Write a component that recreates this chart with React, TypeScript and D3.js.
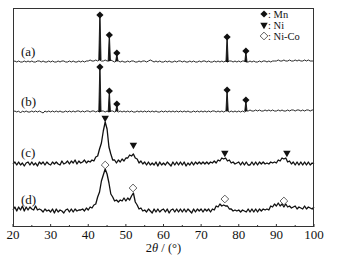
import * as d3 from "d3";

// 2θ sampling grid, 0.5° steps
const twoTheta = d3.range(20, 100.001, 0.5);

// intensities above each pattern's own baseline (a.u.), one value per 0.5°
const intensityA = [
  0, 1, 0, 1, 0, 0, 1, 0, 1, 0,
  1, 0, 0, 1, 1, 0, 1, 0, 0, 1,
  0, 1, 0, 0, 1, 0, 1, 1, 0, 0,
  1, 0, 1, 0, 0, 1, 0, 1, 0, 1,
  1, 2, 1, 1, 2, 1, 2, 1, 1, 2,
  1, 1, 2, 1, 0, 1, 1, 0, 1, 0,
  0, 1, 0, 1, 1, 0, 0, 1, 0, 1,
  1, 0, 1, 2, 1, 0, 1, 0, 1, 0,
  0, 1, 0, 1, 0, 0, 1, 0, 1, 1,
  0, 1, 0, 0, 1, 0, 1, 0, 0, 1,
  0, 1, 1, 0, 1, 0, 0, 1, 0, 1,
  0, 1, 0, 1, 0, 1, 1, 0, 1, 0,
  1, 0, 1, 1, 0, 0, 1, 0, 1, 0,
  0, 1, 0, 1, 1, 0, 1, 0, 1, 1,
  1, 2, 1, 1, 2, 1, 1, 2, 1, 1,
  2, 1, 2, 1, 1, 2, 1, 2, 1, 1,
  1,
];
const intensityB = [
  0, 1, 0, 1, -1, 1, 0, 1, 0, 0,
  1, 0, 1, 0, 1, 0, -1, 1, 0, 1,
  0, 1, 0, 1, 0, 1, 0, 0, 1, 0,
  1, 0, 1, 0, 1, 1, 0, 1, 0, 1,
  1, 0, 1, 1, 0, 1, 0, 1, 1, 0,
  1, 0, 1, 1, 0, 1, 0, 1, 0, 1,
  0, 1, 0, 1, 0, 0, 1, 0, 1, 0,
  1, 0, 1, 0, 1, 0, 1, 0, 0, 1,
  0, 1, 0, 1, 0, 1, 0, 1, 0, 1,
  0, 1, 0, 1, 0, 0, 1, 0, 1, 0,
  1, 0, 1, 0, 1, 0, 1, 1, 0, 1,
  0, 1, 0, 1, 1, 0, 1, 0, 1, 0,
  1, 0, 1, 0, 1, 1, 2, 1, 1, 2,
  1, 2, 1, 1, 2, 1, 2, 1, 2, 1,
  1, 2, 1, 2, 1, 1, 2, 1, 2, 2,
  1, 2, 2, 1, 2, 1, 2, 2, 1, 2,
  2,
];
const intensityC = [
  0, 2, -1, 2, -1, 1, -2, 1, 2, -1,
  2, -1, 1, -2, 2, 0, 2, -1, 2, 0,
  -1, 2, 0, 2, 0, -1, 3, 0, 1, 3,
  0, 3, 1, 4, 0, 3, 1, 2, 4, 1,
  3, 2, 4, 3, 7, 8, 15, 21, 33, 42,
  35, 17, 10, 4, 4, 1, 4, 2, 5, 3,
  6, 6, 9, 8, 10, 6, 5, 1, 3, 0,
  2, -1, 2, -1, 1, -1, 2, -2, 2, -1,
  1, -1, 2, 0, -2, 2, -1, 2, -1, 2,
  -1, 2, -2, 1, -1, 2, -1, 2, 0, 2,
  0, 2, 0, 2, 0, 2, 1, 3, 1, 4,
  3, 6, 5, 6, 3, 4, 1, 2, 0, 1,
  2, -1, 2, -1, 2, -1, -1, 2, -1, 2,
  -1, 2, 0, 2, 0, 1, 0, 2, 1, 2,
  1, 4, 3, 6, 5, 6, 2, 3, 0, 2,
  -1, 2, -1, 2, -1, 2, -1, 2, -1, 1,
  0,
];
const intensityD = [
  1, 4, 0, 4, 1, 5, 0, 4, 1, 4,
  2, 1, 5, 1, 2, 1, -1, 2, 0, 1,
  -1, 2, -2, 2, -1, 1, 0, -2, 1, 2,
  -1, 2, -1, 2, 0, 1, 1, 2, 0, 3,
  1, 4, 3, 6, 7, 14, 19, 30, 36, 42,
  37, 28, 17, 14, 10, 11, 9, 11, 10, 13,
  10, 13, 11, 15, 18, 9, 6, 2, 3, 0,
  1, -1, 2, 0, -2, 2, -1, 2, -1, 1,
  2, -1, 2, -2, 1, 2, -1, 2, -1, 2,
  -1, 2, -1, 2, 0, -2, 2, -1, 2, 0,
  2, -1, 2, 0, 2, -1, 2, 1, 5, 4,
  7, 5, 6, 5, 5, 2, 2, 0, 1, 0,
  1, -1, 1, 0, -1, 2, -1, 2, -1, 2,
  -1, 2, 0, 2, 1, 2, 1, 5, 4, 7,
  5, 8, 5, 7, 4, 7, 4, 5, 3, 4,
  5, 2, 4, 3, 2, 5, 2, 4, 3, 2,
  4,
];

const traceLabels = ["(a)", "(b)", "(c)", "(d)"];
const traceOffsets = [165, 115, 63, 16];

// sharp Mn reflections in (a) and (b)
const mnPeaks = [43.1, 45.6, 47.6, 76.9, 81.9];
const mnHeightsA = [45, 25, 7, 23, 9];
const mnHeightsB = [43, 19, 6, 20, 10];

// marker positions for (c) and (d)
const niPeaks = [44.5, 52.0, 76.3, 92.8];
const niMarkerHeights = [46, 19, 11, 11];
const niCoPeaks = [44.5, 51.9, 76.3, 92.0];
const niCoMarkerHeights = [46, 23, 12, 10];

const xTicks = [20, 30, 40, 50, 60, 70, 80, 90, 100];
const xMinorTicks = [25, 35, 45, 55, 65, 75, 85, 95];

const FONT = "'Liberation Serif', 'Times New Roman', serif";

export default function App() {
  const width = 339;
  const height = 261;
  const plot = { left: 13, right: 314, top: 8, bottom: 227 };

  const x = d3.scaleLinear().domain([20, 100]).range([plot.left, plot.right]);
  const y = d3.scaleLinear().domain([0, 219]).range([plot.bottom, plot.top]);

  const series = [intensityA, intensityB, intensityC, intensityD];

  const line = d3
    .line<[number, number]>()
    .x(d => x(d[0]))
    .y(d => y(d[1]));

  const diamond = d3.symbol(d3.symbolSquare, 26)();
  const hollowDiamond = d3.symbol(d3.symbolSquare, 30)();
  const triangle = d3.symbol(d3.symbolTriangle, 24)();

  const spikes = (vals: number[], heights: number[], off: number) =>
    mnPeaks.map((p, i) => {
      const base = vals[Math.round((p - 20) / 0.5)] + off;
      const top = heights[i] + off;
      return {
        p,
        top,
        d: line([
          [p - 0.3, base],
          [p - 0.04, top],
          [p + 0.04, top],
          [p + 0.3, base],
        ]),
      };
    });

  const spikesA = spikes(intensityA, mnHeightsA, traceOffsets[0]);
  const spikesB = spikes(intensityB, mnHeightsB, traceOffsets[1]);

  return (
    <svg
      width={width}
      height={height}
      style={{ position: "absolute", left: 0, top: 0, background: "#fff" }}
      fontFamily={FONT}
    >
      <rect width={width} height={height} fill="#fff" />

      {/* patterns */}
      {series.map((vals, k) => (
        <path
          key={k}
          d={line(twoTheta.map((t, i) => [t, vals[i] + traceOffsets[k]]) as [number, number][]) || ""}
          fill="none"
          stroke="#111"
          strokeWidth={k < 2 ? 0.9 : 1.3}
          strokeLinejoin="round"
        />
      ))}
      {[...spikesA, ...spikesB].map((s, i) => (
        <path key={"s" + i} d={s.d || ""} fill="#111" stroke="#111" strokeWidth={0.9} />
      ))}

      {/* Mn markers */}
      {[...spikesA, ...spikesB].map((s, i) => (
        <path
          key={"mn" + i}
          d={diamond || ""}
          transform={`translate(${x(s.p)},${y(s.top + 2)}) rotate(45)`}
          fill="#111"
        />
      ))}
      {/* Ni markers */}
      {niPeaks.map((p, i) => (
        <path
          key={"ni" + i}
          d={triangle || ""}
          transform={`translate(${x(p)},${y(niMarkerHeights[i] + traceOffsets[2])}) rotate(180)`}
          fill="#111"
        />
      ))}
      {/* Ni-Co markers */}
      {niCoPeaks.map((p, i) => (
        <path
          key={"nc" + i}
          d={hollowDiamond || ""}
          transform={`translate(${x(p)},${y(niCoMarkerHeights[i] + traceOffsets[3])}) rotate(45)`}
          fill="#fff"
          stroke="#444"
          strokeWidth={0.8}
        />
      ))}

      {/* trace labels */}
      {traceLabels.map((t, k) => (
        <text key={t} x={21} y={y(traceOffsets[k]) - (k < 2 ? 6 : 7)} fontSize={13} fill="#111">
          {t}
        </text>
      ))}

      {/* frame */}
      <rect
        x={plot.left + 0.5}
        y={plot.top + 0.5}
        width={plot.right - plot.left - 1}
        height={plot.bottom - plot.top - 1}
        fill="none"
        stroke="#333"
        strokeWidth={1}
      />

      {/* x ticks, inward */}
      {xTicks.map(t => (
        <g key={t}>
          <line x1={x(t)} x2={x(t)} y1={plot.bottom} y2={plot.bottom - 3} stroke="#333" />
          <text x={x(t)} y={239} textAnchor="middle" fontSize={13} fill="#111">
            {t}
          </text>
        </g>
      ))}
      {xMinorTicks.map(t => (
        <line key={t} x1={x(t)} x2={x(t)} y1={plot.bottom} y2={plot.bottom - 2} stroke="#333" />
      ))}
      <text x={(plot.left + plot.right) / 2} y={252} textAnchor="middle" fontSize={12.5} fill="#111">
        2<tspan fontStyle="italic">θ</tspan> / (°)
      </text>

      {/* legend */}
      <g fontSize={10.5} fill="#111">
        <path d={diamond || ""} transform="translate(264,14) rotate(45)" fill="#111" />
        <text x={268} y={17.5}>: Mn</text>
        <path d={triangle || ""} transform="translate(264,25) rotate(180)" fill="#111" />
        <text x={268} y={28.5}>: Ni</text>
        <path
          d={hollowDiamond || ""}
          transform="translate(264,36) rotate(45)"
          fill="#fff"
          stroke="#444"
          strokeWidth={0.8}
        />
        <text x={268} y={39.5}>: Ni-Co</text>
      </g>
    </svg>
  );
}
